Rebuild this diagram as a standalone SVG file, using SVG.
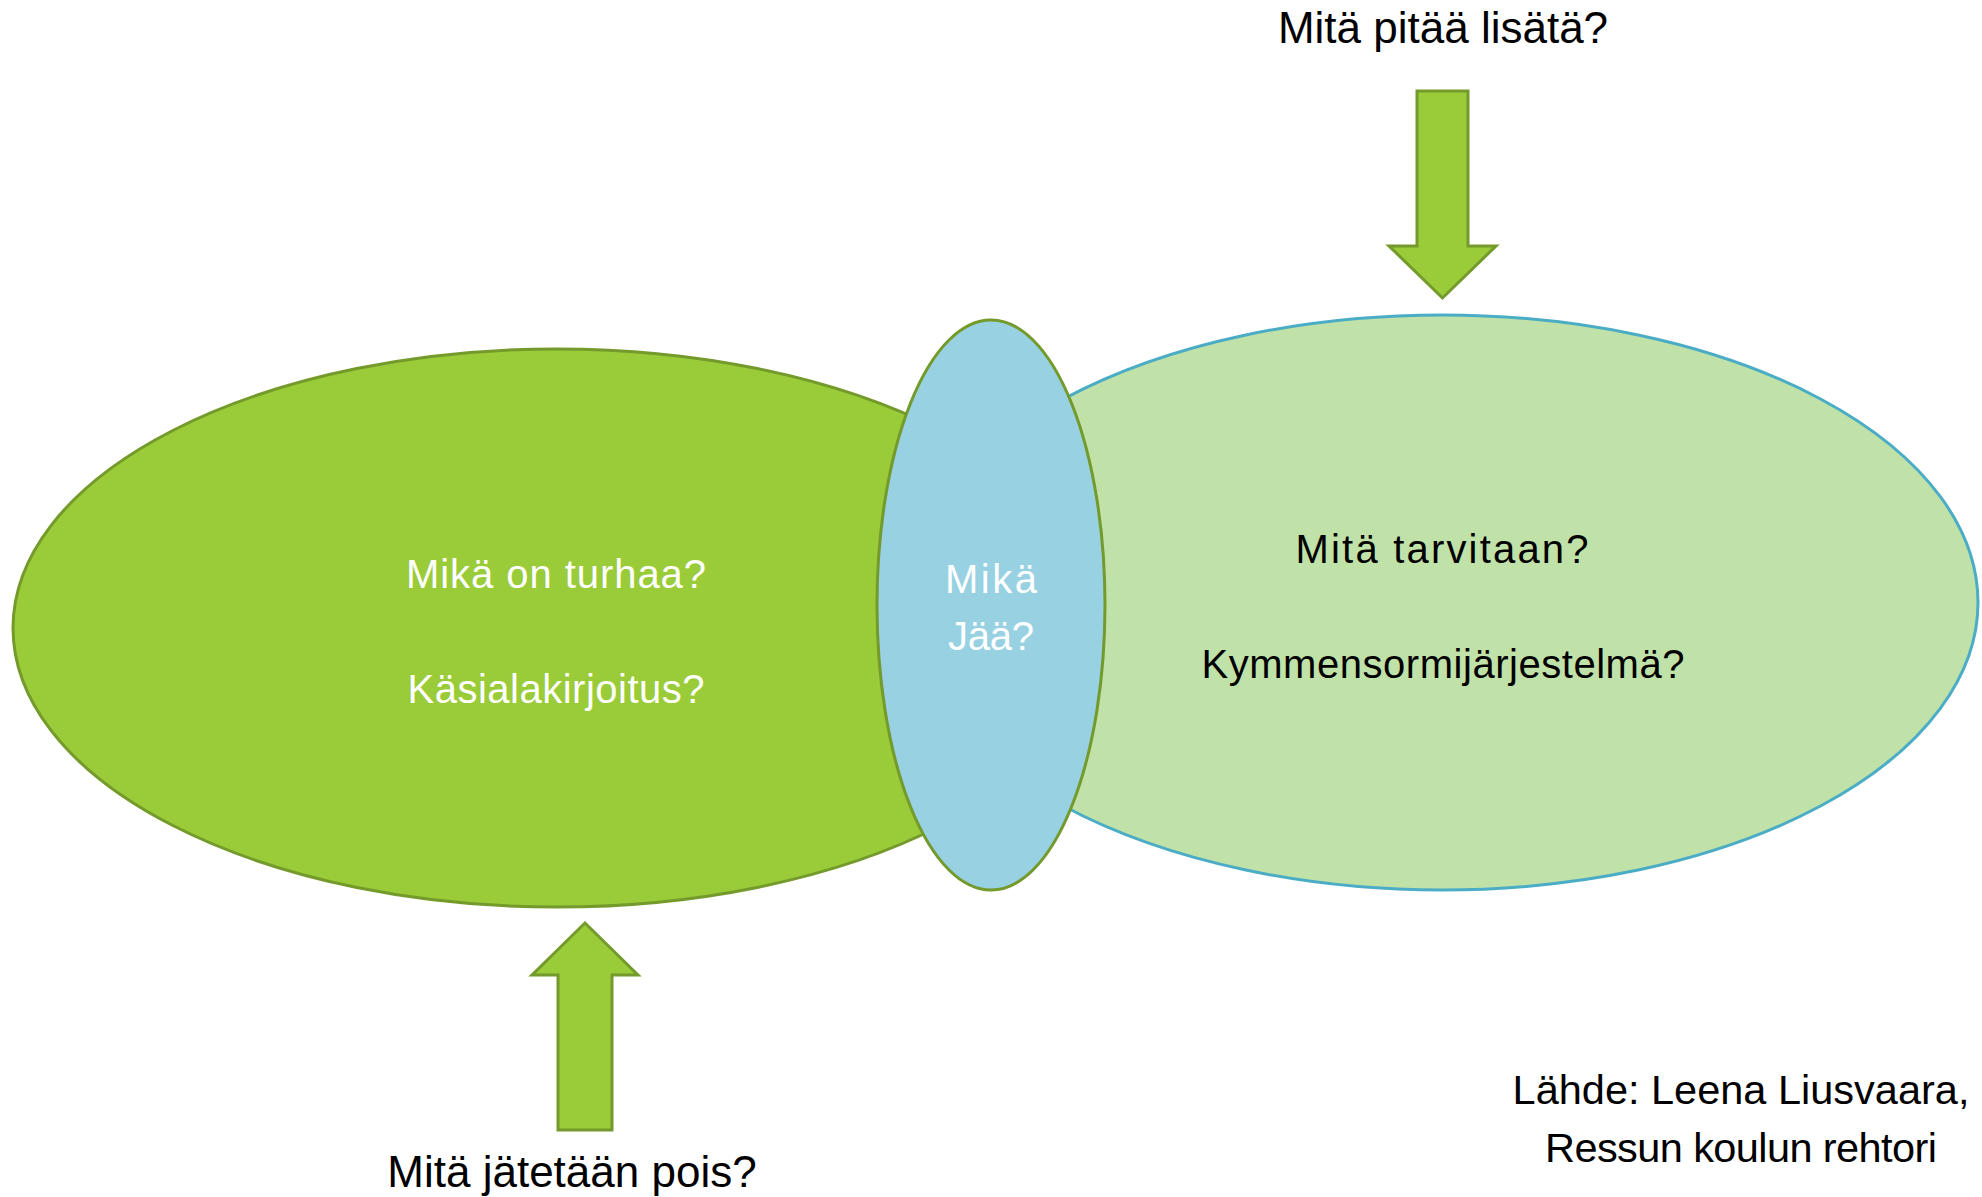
<svg xmlns="http://www.w3.org/2000/svg" width="1982" height="1197" viewBox="0 0 1982 1197">
<style>
.t{font-family:"Liberation Sans",Arial,sans-serif;text-anchor:middle}
.in{font-size:40px}
.out{font-size:44px;fill:#000}
.src{font-size:41.5px;fill:#000}
.w{fill:#fff}
.k{fill:#000}
.arrow{fill:#9ACB38;stroke:#739A2B;stroke-width:3;stroke-linejoin:miter}
</style>
<rect width="1982" height="1197" fill="#fff"/>
<g id="left">
<ellipse cx="557" cy="628" rx="544" ry="279" fill="#9ACB38" stroke="#739A2B" stroke-width="3"/>
<text class="t in w" x="556" y="588" textLength="300">Mikä on turhaa?</text>
<text class="t in w" x="556" y="703" textLength="297">Käsialakirjoitus?</text>
</g>
<g id="right">
<ellipse cx="1442" cy="602.5" rx="536" ry="287.5" fill="#C0E2A8" stroke="#4BACC6" stroke-width="3"/>
<text class="t in k" x="1442" y="563" textLength="293">Mitä tarvitaan?</text>
<text class="t in k" x="1443" y="678" textLength="483">Kymmensormijärjestelmä?</text>
</g>
<g id="middle">
<ellipse cx="991" cy="605" rx="114" ry="285" fill="#97D1E2" stroke="#739A2B" stroke-width="3"/>
<text class="t in w" x="991" y="593" textLength="92">Mikä</text>
<text class="t in w" x="991" y="650" textLength="86">Jää?</text>
</g>
<g id="connectors">
<polygon class="arrow" points="1417,91 1468,91 1468,246 1496,246 1442.5,298 1389,246 1417,246"/>
<polygon class="arrow" points="558,1130 612,1130 612,975 638,975 585,923 532,975 558,975"/>
</g>
<g id="labels">
<text class="t out" x="1443" y="43">Mitä pitää lisätä?</text>
<text class="t out" x="572" y="1187">Mitä jätetään pois?</text>
<text class="t src" x="1741" y="1104">Lähde: Leena Liusvaara,</text>
<text class="t src" x="1741" y="1162" textLength="392">Ressun koulun rehtori</text>
</g>
</svg>
